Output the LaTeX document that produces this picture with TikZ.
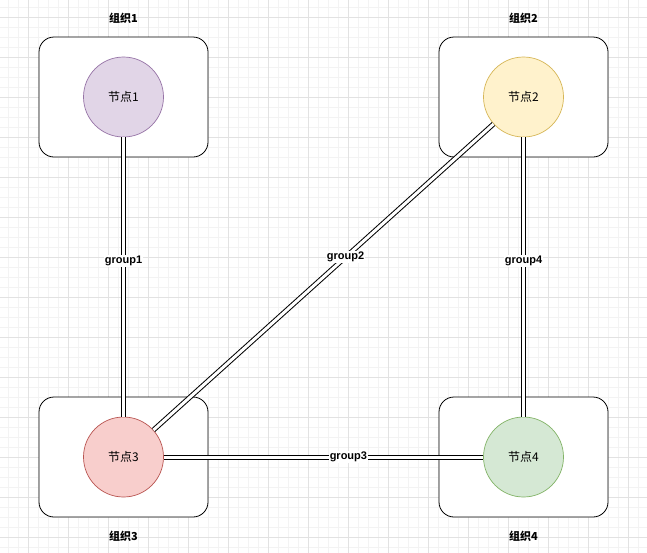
\documentclass[tikz,border=0pt]{standalone}
\usepackage{fontspec}
\setmainfont{Liberation Sans}
\newfontfamily\cjk{Noto Sans CJK SC}
\usetikzlibrary{positioning}
\definecolor{gridminor}{HTML}{F3F3F3}
\definecolor{gridmajor}{HTML}{E2E2E2}
\definecolor{purplefill}{HTML}{E1D5E7}
\definecolor{purpleline}{HTML}{9673A6}
\definecolor{yellowfill}{HTML}{FFF2CC}
\definecolor{yellowline}{HTML}{D6B656}
\definecolor{redfill}{HTML}{F8CECC}
\definecolor{redline}{HTML}{B85450}
\definecolor{greenfill}{HTML}{D5E8D4}
\definecolor{greenline}{HTML}{82B366}
\begin{document}
\begin{tikzpicture}[
  x=1pt, y=-1pt,
  every node/.style={inner sep=1pt},
  org/.style={draw,fill=white,rounded corners=15pt,minimum width=169pt,minimum height=120pt,line width=0.8pt},
  orglabel/.style={font=\cjk\bfseries\fontsize{11}{13}\selectfont},
  peer/.style={circle,draw,minimum size=80pt,line width=0.7pt,font=\cjk\fontsize{12}{14}\selectfont},
  link/.style={draw,double=white,double distance=3pt,line width=1pt},
  tag/.style={fill=white,font=\bfseries\fontsize{11}{13}\selectfont},
  label distance=12pt,
  ]
  \clip (0,0) rectangle (647,552);
  \fill[white] (0,0) rectangle (647,552);
  \draw[gridminor, step=10pt, shift={(-2,-3)}] (0,0) grid (660,570);
  \draw[gridmajor, step=40pt, shift={(-12,-23)}] (0,0) grid (700,600);

  \node[org, label={[orglabel]90:组织1}] (O1) at (123.5,97) {};
  \node[org, label={[orglabel]90:组织2}] (O2) at (523.5,97) {};
  \node[org, label={[orglabel]270:组织3}] (O3) at (123.5,457) {};
  \node[org, label={[orglabel]270:组织4}] (O4) at (523.5,457) {};

  \node[peer, fill=purplefill, draw=purpleline] (N1) at (O1) {节点1};
  \node[peer, fill=yellowfill, draw=yellowline] (N2) at (O2) {节点2};
  \node[peer, fill=redfill, draw=redline] (N3) at (O3) {节点3};
  \node[peer, fill=greenfill, draw=greenline] (N4) at (O4) {节点4};

  \draw[link] (N1) -- node[tag, pos=.443]{group1} (N3);
  \draw[link] (N2) -- node[tag, pos=.435]{group2} (N3);
  \draw[link] (N3) -- node[tag, pos=.578]{group3} (N4);
  \draw[link] (N2) -- node[tag, pos=.443]{group4} (N4);

\end{tikzpicture}
\end{document}
